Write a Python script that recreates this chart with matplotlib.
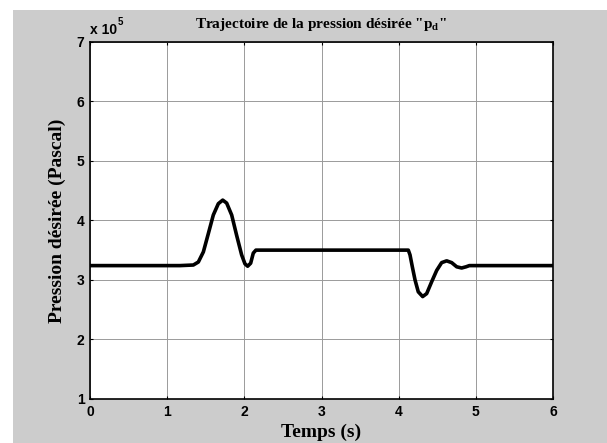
import matplotlib
matplotlib.use('Agg')
import matplotlib.pyplot as plt
from matplotlib.patches import Rectangle
import numpy as np

# Values (time in s, pressure in 1e5 Pa)
time_s = [0.0, 1.166, 1.339, 1.404, 1.469, 1.534, 1.598, 1.663, 1.72, 1.771,
          1.836, 1.900, 1.965, 2.008, 2.043, 2.082, 2.116, 2.15,
          4.125, 4.147, 4.177, 4.212, 4.254, 4.311, 4.363, 4.428, 4.493,
          4.557, 4.622, 4.687, 4.752, 4.816, 4.873, 4.916, 6.0]
pressure_1e5 = [3.24, 3.24, 3.25, 3.30, 3.47, 3.78, 4.09, 4.28, 4.34, 4.29,
                4.09, 3.75, 3.42, 3.27, 3.23, 3.28, 3.45, 3.50,
                3.50, 3.42, 3.22, 3.00, 2.80, 2.72, 2.77, 2.97, 3.16,
                3.29, 3.32, 3.29, 3.22, 3.20, 3.22, 3.24, 3.24]

x_ticks = [0, 1, 2, 3, 4, 5, 6]
y_ticks = [1, 2, 3, 4, 5, 6, 7]

plt.rcParams['mathtext.fontset'] = 'custom'
plt.rcParams['mathtext.rm'] = 'Liberation Serif:bold'
plt.rcParams['mathtext.bf'] = 'Liberation Serif:bold'

fig = plt.figure(figsize=(6.07, 4.43), dpi=100, facecolor='white')
# grey matlab-like figure background
fig.patches.append(Rectangle((13 / 607, 0), 1, 433 / 443, transform=fig.transFigure,
                             facecolor='#cccccc', edgecolor='none', zorder=-10))

ax = fig.add_axes([90 / 607, 44 / 443, 463 / 607, 357.3 / 443])
ax.set_facecolor('white')

ax.plot(time_s, pressure_1e5, color='black', linewidth=2.6,
        solid_joinstyle='round', solid_capstyle='round', zorder=3)

ax.set_xlim(0, 6)
ax.set_ylim(1, 7)
ax.set_xticks(x_ticks)
ax.set_yticks(y_ticks)
ax.grid(True, color='#9a9a9a', linewidth=0.7, linestyle='-')
ax.set_axisbelow(True)

ax.tick_params(direction='in', length=2.5, width=0.8, top=True, right=True,
               labelsize=10, pad=4, colors='black')
for lab in ax.get_xticklabels() + ax.get_yticklabels():
    lab.set_fontfamily('Liberation Sans')
    lab.set_fontweight('bold')
for sp in ax.spines.values():
    sp.set_linewidth(1.2)
    sp.set_color('black')

ax.set_xlabel('Temps (s)', fontsize=14, fontweight='bold',
              fontfamily='Liberation Serif', labelpad=4)
ax.set_ylabel('Pression désirée (Pascal)', fontsize=14, fontweight='bold',
              fontfamily='Liberation Serif', labelpad=8)
ax.set_title('Trajectoire de la pression désirée "p$_\\mathbf{d}$"', fontsize=11,
             fontweight='bold', fontfamily='Liberation Serif', pad=10)

# exponent label, matlab style
ax.text(0.0, 1.012, 'x 10', transform=ax.transAxes, fontsize=10, fontweight='bold',
        fontfamily='Liberation Sans', ha='left', va='bottom')
ax.text(0.060, 1.042, '5', transform=ax.transAxes, fontsize=7, fontweight='bold',
        fontfamily='Liberation Sans', ha='left', va='bottom')

fig.savefig('out.png', dpi=100, facecolor=fig.get_facecolor())
